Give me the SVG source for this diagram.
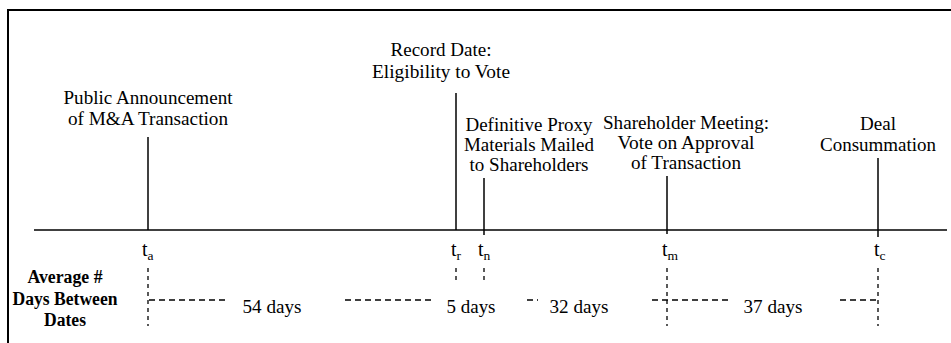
<svg xmlns="http://www.w3.org/2000/svg" width="951" height="343" viewBox="0 0 951 343" font-family="'Liberation Serif', 'Times New Roman', Times, serif">
<style>
text{font-family:'Liberation Serif','Times New Roman',Times,serif;fill:#000}
.lbl{font-size:19.5px;text-anchor:middle}
.t{font-size:20px}
.sub{font-size:13.5px}
.b{font-size:18px;font-weight:bold;text-anchor:middle}
.solid{stroke:#000;stroke-width:1.5;fill:none}
.dv{stroke:#000;stroke-width:1.3;stroke-dasharray:4 4;fill:none}
.dh{stroke:#000;stroke-width:1.3;stroke-dasharray:6 4;fill:none}
</style>
<rect width="951" height="343" fill="#fff"/>
<g id="frame">
<path d="M8 343 V10 H951" stroke="#000" stroke-width="2" fill="none"/>
</g>
<g id="connectors">
<line class="solid" x1="34" y1="230" x2="947" y2="230"/>
<line class="solid" x1="148" y1="137" x2="148" y2="230"/>
<line class="solid" x1="456" y1="93" x2="456" y2="230"/>
<line class="solid" x1="484" y1="178" x2="484" y2="235"/>
<line class="solid" x1="667" y1="176" x2="667" y2="234"/>
<line class="solid" x1="878" y1="158" x2="878" y2="237"/>
<line class="dv" x1="148" y1="268" x2="148" y2="326"/>
<line class="dv" x1="456" y1="268" x2="456" y2="283"/>
<line class="dv" x1="484" y1="268" x2="484" y2="283"/>
<line class="dv" x1="667" y1="268" x2="667" y2="326"/>
<line class="dv" x1="878" y1="268" x2="878" y2="326"/>
<line class="dh" x1="149" y1="300" x2="229" y2="300"/>
<line class="dh" x1="345" y1="300" x2="433" y2="300"/>
<line class="dh" x1="527" y1="300" x2="538" y2="300" stroke-dasharray="3 3"/>
<line class="dh" x1="652" y1="300" x2="729" y2="300"/>
<line class="dh" x1="840" y1="300" x2="878" y2="300"/>
</g>
<g id="node-announce">
<text class="lbl" x="148" y="104" textLength="169" lengthAdjust="spacingAndGlyphs">Public Announcement</text>
<text class="lbl" x="148" y="125" textLength="160" lengthAdjust="spacingAndGlyphs">of M&amp;A Transaction</text>
<text class="t" x="142" y="256">t<tspan class="sub" dy="4">a</tspan></text>
</g>
<g id="node-record">
<text class="lbl" x="441" y="56" textLength="101" lengthAdjust="spacingAndGlyphs">Record Date:</text>
<text class="lbl" x="441" y="78" textLength="138" lengthAdjust="spacingAndGlyphs">Eligibility to Vote</text>
<text class="t" x="451" y="256">t<tspan class="sub" dy="4">r</tspan></text>
</g>
<g id="node-proxy">
<text class="lbl" x="529" y="131" textLength="127" lengthAdjust="spacingAndGlyphs">Definitive Proxy</text>
<text class="lbl" x="529" y="151" textLength="130" lengthAdjust="spacingAndGlyphs">Materials Mailed</text>
<text class="lbl" x="529" y="171" textLength="119" lengthAdjust="spacingAndGlyphs">to Shareholders</text>
<text class="t" x="478" y="256">t<tspan class="sub" dy="4">n</tspan></text>
</g>
<g id="node-meeting">
<text class="lbl" x="686" y="129" textLength="166" lengthAdjust="spacingAndGlyphs">Shareholder Meeting:</text>
<text class="lbl" x="686" y="149" textLength="137" lengthAdjust="spacingAndGlyphs">Vote on Approval</text>
<text class="lbl" x="686" y="169" textLength="110" lengthAdjust="spacingAndGlyphs">of Transaction</text>
<text class="t" x="662" y="256">t<tspan class="sub" dy="4">m</tspan></text>
</g>
<g id="node-deal">
<text class="lbl" x="878" y="130" textLength="36" lengthAdjust="spacingAndGlyphs">Deal</text>
<text class="lbl" x="878" y="151" textLength="116" lengthAdjust="spacingAndGlyphs">Consummation</text>
<text class="t" x="874" y="256">t<tspan class="sub" dy="4">c</tspan></text>
</g>
<g id="legend">
<text class="b" x="65" y="283" textLength="75" lengthAdjust="spacingAndGlyphs">Average #</text>
<text class="b" x="65" y="305" textLength="105" lengthAdjust="spacingAndGlyphs">Days Between</text>
<text class="b" x="65" y="326" textLength="42" lengthAdjust="spacingAndGlyphs">Dates</text>
</g>
<g id="durations">
<text class="lbl" x="272" y="313" textLength="59" lengthAdjust="spacingAndGlyphs">54 days</text>
<text class="lbl" x="471" y="313" textLength="49" lengthAdjust="spacingAndGlyphs">5 days</text>
<text class="lbl" x="579" y="313" textLength="59" lengthAdjust="spacingAndGlyphs">32 days</text>
<text class="lbl" x="773" y="313" textLength="59" lengthAdjust="spacingAndGlyphs">37 days</text>
</g>
</svg>
